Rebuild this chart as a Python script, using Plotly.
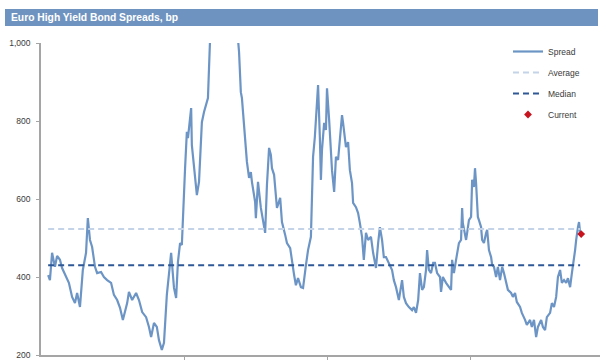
import plotly.graph_objects as go

# ---- data (decimal year, spread in bp) ----
dates = [
    2004.20, 2004.25, 2004.31, 2004.39, 2004.45, 2004.53, 2004.59, 2004.70, 2004.78, 2004.87,
    2004.95, 2005.01, 2005.09, 2005.17, 2005.26, 2005.31, 2005.37, 2005.43, 2005.51, 2005.57,
    2005.68, 2005.76, 2005.85, 2005.96, 2006.04, 2006.13, 2006.21, 2006.29, 2006.41, 2006.46,
    2006.55, 2006.66, 2006.74, 2006.83, 2006.94, 2007.02, 2007.08, 2007.16, 2007.24, 2007.30,
    2007.38, 2007.44, 2007.52, 2007.64, 2007.72, 2007.78, 2007.83, 2007.89, 2007.94, 2008.03,
    2008.08, 2008.11, 2008.20, 2008.22, 2008.31, 2008.36, 2008.42, 2008.50, 2008.56, 2008.62,
    2008.67, 2008.70, 2008.73, 2008.78, 2008.87, 2008.95, 2009.03, 2009.12, 2009.20, 2009.29,
    2009.37, 2009.45, 2009.51, 2009.54, 2009.59, 2009.62, 2009.68, 2009.73, 2009.76, 2009.82,
    2009.87, 2009.90, 2009.99, 2010.01, 2010.07, 2010.15, 2010.21, 2010.27, 2010.32, 2010.38,
    2010.43, 2010.46, 2010.52, 2010.57, 2010.60, 2010.69, 2010.74, 2010.83, 2010.88, 2010.97,
    2011.02, 2011.08, 2011.13, 2011.19, 2011.27, 2011.33, 2011.41, 2011.47, 2011.55, 2011.58,
    2011.61, 2011.66, 2011.69, 2011.75, 2011.80, 2011.83, 2011.86, 2011.92, 2011.97, 2012.00,
    2012.06, 2012.11, 2012.14, 2012.20, 2012.25, 2012.31, 2012.36, 2012.42, 2012.45, 2012.53,
    2012.59, 2012.64, 2012.70, 2012.73, 2012.81, 2012.87, 2012.92, 2012.98, 2013.03, 2013.09,
    2013.15, 2013.23, 2013.29, 2013.37, 2013.43, 2013.48, 2013.54, 2013.59, 2013.65, 2013.73,
    2013.82, 2013.87, 2013.93, 2014.01, 2014.10, 2014.15, 2014.21, 2014.29, 2014.38, 2014.43,
    2014.49, 2014.55, 2014.60, 2014.66, 2014.71, 2014.77, 2014.80, 2014.85, 2014.91, 2014.97,
    2015.02, 2015.08, 2015.16, 2015.19, 2015.24, 2015.33, 2015.41, 2015.47, 2015.50, 2015.55,
    2015.61, 2015.64, 2015.69, 2015.75, 2015.78, 2015.80, 2015.83, 2015.89, 2015.92, 2015.97,
    2016.03, 2016.06, 2016.11, 2016.14, 2016.17, 2016.22, 2016.25, 2016.31, 2016.34, 2016.39,
    2016.45, 2016.48, 2016.53, 2016.59, 2016.62, 2016.67, 2016.73, 2016.78, 2016.84, 2016.90,
    2016.95, 2017.01, 2017.06, 2017.15, 2017.20, 2017.26, 2017.31, 2017.40, 2017.45, 2017.54,
    2017.59, 2017.68, 2017.73, 2017.79, 2017.85, 2017.90, 2017.99, 2018.04, 2018.10, 2018.15,
    2018.24, 2018.29, 2018.35, 2018.41, 2018.46, 2018.52, 2018.57, 2018.63, 2018.69, 2018.74,
    2018.80, 2018.85, 2018.88, 2018.94, 2018.97, 2018.99, 2019.02, 2019.05, 2019.08,
]
spread = [
    405, 392, 462, 426, 454, 444, 423, 400, 385, 349,
    333, 359, 323, 418, 462, 551, 495, 477, 426, 410,
    413, 400, 392, 385, 354, 341, 321, 290, 333, 362,
    341, 359, 341, 310, 297, 272, 246, 282, 272, 238,
    213, 231, 354, 462, 372, 346, 438, 487, 482, 679,
    772, 756, 833, 738, 662, 610, 644, 797, 823, 841,
    859, 936, 1010, 1150, 1450, 1750, 1950, 2000, 1900, 1650,
    1400, 1150, 1010, 977, 874, 859, 782, 713, 695, 654,
    669, 644, 592, 551, 644, 577, 541, 513, 636, 731,
    713, 679, 662, 610, 577, 603, 541, 508, 487, 474,
    438, 405, 379, 397, 374, 372, 430, 469, 503, 631,
    708, 759, 803, 892, 759, 649, 726, 795, 777, 884,
    803, 700, 674, 618, 708, 700, 759, 815, 795, 733,
    746, 674, 641, 590, 579, 564, 538, 503, 444, 513,
    495, 503, 462, 423, 487, 528, 495, 451, 451, 436,
    418, 392, 374, 341, 392, 349, 333, 323, 315, 323,
    308, 341, 410, 367, 374, 418, 469, 418, 410, 436,
    436, 410, 400, 362, 400, 385, 374, 367, 444, 410,
    444, 462, 487, 495, 577, 538, 521, 495, 513, 546,
    554, 649, 631, 679, 641, 554, 546, 528, 495, 487,
    513, 521, 469, 451, 431, 426, 400, 426, 392, 426,
    410, 385, 367, 359, 349, 359, 336, 323, 308, 290,
    277, 290, 272, 290, 246, 272, 290, 272, 264, 297,
    308, 333, 323, 349, 400, 418, 385, 392, 385, 397,
    374, 410, 426, 469, 495, 513, 528, 541, 513,
]
average_value = 523
median_value = 430
current_date = [2019.11]
current_value = [510]
line_span = [dates[0], dates[-1]]
x_ticks = [2008, 2012, 2016]
y_ticks = [200, 400, 600, 800, 1000]
title_text = "Euro High Yield Bond Spreads, bp"

SPREAD_C = "rgb(108,149,197)"
AVG_C = "rgb(196,211,231)"
MED_C = "rgb(46,88,150)"
CUR_C = "rgb(200,20,30)"
BAR_C = "rgb(110,147,192)"
AXIS_C = "rgb(165,165,165)"
FONT = "Arial, Liberation Sans, sans-serif"

fig = go.Figure()
fig.add_trace(go.Scatter(x=dates, y=spread, mode="lines", name="Spread",
                         line=dict(color=SPREAD_C, width=2.2), legendgroup="a"))
fig.add_trace(go.Scatter(x=line_span, y=[average_value] * 2, mode="lines", name="Average",
                         line=dict(color=AVG_C, width=2, dash="6px,4px"), legendgroup="b"))
fig.add_trace(go.Scatter(x=line_span, y=[median_value] * 2, mode="lines", name="Median",
                         line=dict(color=MED_C, width=2, dash="6px,4px"), legendgroup="c"))
fig.add_trace(go.Scatter(x=current_date, y=current_value, mode="markers", name="Current",
                         marker=dict(color=CUR_C, symbol="diamond", size=6), legendgroup="d",
                         cliponaxis=False))

W, H = 601, 360
ml, mr, mt, mb = 41, 1, 43, 5
pw = W - ml - mr
ph = H - mt - mb

def px_x(p):
    return (p - ml) / pw

def px_y(p):
    return 1 + (mt - p) / ph

fig.update_layout(
    width=W, height=H,
    margin=dict(l=ml, r=mr, t=mt, b=mb, pad=0),
    paper_bgcolor="white", plot_bgcolor="white",
    font=dict(family=FONT, size=8.5, color="#3a3a3a"),
    showlegend=True,
    legend=dict(x=px_x(508), y=px_y(37), xanchor="left", yanchor="top",
                traceorder="grouped", tracegroupgap=2, itemwidth=30,
                bgcolor="rgba(0,0,0,0)", font=dict(size=8.5, color="#3a3a3a")),
    xaxis=dict(range=[2004, 2004 + pw / 35.75], showgrid=False, zeroline=False,
               showline=True, linecolor=AXIS_C, linewidth=1.5,
               ticks="outside", ticklen=4, tickcolor=AXIS_C, tickwidth=1,
               tickvals=x_ticks, showticklabels=False),
    yaxis=dict(range=[200, 1000], showgrid=False, zeroline=False,
               showline=True, linecolor=AXIS_C, linewidth=1.5,
               ticks="outside", ticklen=3, tickcolor=AXIS_C, tickwidth=1,
               tickvals=y_ticks, tickformat=",", ticklabelstandoff=4,
               tickfont=dict(size=8.5, color="#3a3a3a")),
    shapes=[dict(type="rect", xref="paper", yref="paper",
                 x0=px_x(5), x1=px_x(598), y0=px_y(26), y1=px_y(9),
                 fillcolor=BAR_C, line=dict(width=0), layer="below")],
    annotations=[dict(text="<b>" + title_text + "</b>", xref="paper", yref="paper",
                      x=px_x(9), y=px_y(17.5), xanchor="left", yanchor="middle",
                      showarrow=False, font=dict(family=FONT, size=10.3, color="white"))],
)

fig.write_html("out.html")
